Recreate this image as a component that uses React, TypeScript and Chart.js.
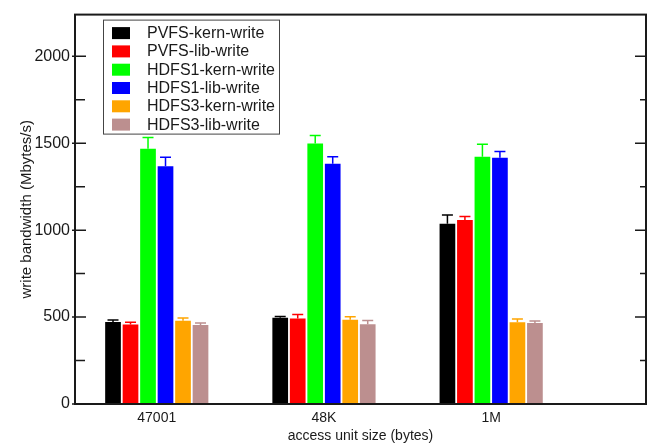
import React, { useEffect, useRef } from 'react';
import { Chart, registerables } from 'chart.js';

Chart.register(...registerables);

// ---- data ----
const categories = ['47001', '48K', '1M'];
const categoryPositions = [1, 2, 3];

const seriesNames = [
  'PVFS-kern-write',
  'PVFS-lib-write',
  'HDFS1-kern-write',
  'HDFS1-lib-write',
  'HDFS3-kern-write',
  'HDFS3-lib-write',
];

const pvfsKernWrite = [472, 496, 1037];
const pvfsLibWrite = [457, 492, 1059];
const hdfs1KernWrite = [1468, 1498, 1422];
const hdfs1LibWrite = [1367, 1382, 1416];
const hdfs3KernWrite = [479, 485, 470];
const hdfs3LibWrite = [455, 459, 466];

const pvfsKernWriteErr = [11, 8, 50];
const pvfsLibWriteErr = [13, 23, 19];
const hdfs1KernWriteErr = [65, 47, 72];
const hdfs1LibWriteErr = [52, 41, 37];
const hdfs3KernWriteErr = [15, 17, 19];
const hdfs3LibWriteErr = [11, 22, 11];

const yTickValues = [0, 500, 1000, 1500, 2000];
const yMinorTickValues = [250, 750, 1250, 1750];

const seriesValues = [pvfsKernWrite, pvfsLibWrite, hdfs1KernWrite, hdfs1LibWrite, hdfs3KernWrite, hdfs3LibWrite];
const seriesErrors = [pvfsKernWriteErr, pvfsLibWriteErr, hdfs1KernWriteErr, hdfs1LibWriteErr, hdfs3KernWriteErr, hdfs3LibWriteErr];

// ---- styles ----
const seriesColors = ['#000000', '#ff0000', '#00ff00', '#0000ff', '#ffa500', '#bc8f8f'];
const FONT = "'Liberation Sans', Arial, Helvetica, sans-serif";
const TEXT = '#1a1a1a';
const LINE = '#1a1a1a';

const decorPlugin = {
  id: 'decor',
  afterDatasetsDraw(chart: any) {
    const ctx = chart.ctx;
    const yScale = chart.scales.y;
    chart.data.datasets.forEach((ds: any, i: number) => {
      const meta = chart.getDatasetMeta(i);
      meta.data.forEach((el: any, j: number) => {
        const v = seriesValues[i][j];
        const e = ds.errors[j];
        const yTop = yScale.getPixelForValue(v + e);
        const yBar = el.y;
        ctx.save();
        ctx.strokeStyle = ds.backgroundColor;
        ctx.lineWidth = 1.5;
        ctx.beginPath();
        ctx.moveTo(el.x, yBar);
        ctx.lineTo(el.x, yTop);
        ctx.moveTo(el.x - 5.5, yTop);
        ctx.lineTo(el.x + 5.5, yTop);
        ctx.stroke();
        ctx.restore();
      });
    });
  },
  afterDraw(chart: any) {
    const ctx = chart.ctx;
    const area = chart.chartArea;
    const yScale = chart.scales.y;
    ctx.save();
    ctx.strokeStyle = LINE;
    ctx.lineWidth = 2;
    ctx.strokeRect(area.left, area.top, area.right - area.left, area.bottom - area.top);
    ctx.lineWidth = 1.5;
    ctx.beginPath();
    yTickValues.forEach((v) => {
      const y = yScale.getPixelForValue(v);
      ctx.moveTo(area.left - 3, y);
      ctx.lineTo(area.left + 11, y);
      ctx.moveTo(area.right - 11, y);
      ctx.lineTo(area.right, y);
    });
    yMinorTickValues.forEach((v) => {
      const y = yScale.getPixelForValue(v);
      ctx.moveTo(area.left, y);
      ctx.lineTo(area.left + 10, y);
      ctx.moveTo(area.right - 6, y);
      ctx.lineTo(area.right, y);
    });
    ctx.stroke();

    const bx = area.left + 28.5;
    const by = area.top + 5.5;
    const bw = 176;
    const bh = 114;
    ctx.fillStyle = '#ffffff';
    ctx.fillRect(bx, by, bw, bh);
    ctx.strokeStyle = '#444444';
    ctx.lineWidth = 1;
    ctx.strokeRect(bx, by, bw, bh);
    ctx.font = `16px ${FONT}`;
    ctx.textBaseline = 'middle';
    ctx.textAlign = 'left';
    seriesNames.forEach((name, i) => {
      const cy = by + 13 + i * 18.3;
      ctx.fillStyle = seriesColors[i];
      ctx.fillRect(bx + 8.5, cy - 6, 18, 12);
      ctx.fillStyle = TEXT;
      ctx.fillText(name, bx + 43.5, cy + 0.5);
    });
    ctx.restore();
  },
};

export default function App() {
  const ref = useRef<HTMLCanvasElement>(null);

  useEffect(() => {
    const canvas = ref.current;
    if (!canvas) return;
    Chart.defaults.font.family = FONT;
    Chart.defaults.color = TEXT;

    const datasets = seriesNames.map((name, i) => ({
      label: name,
      data: categoryPositions.map((x, j) => ({ x, y: seriesValues[i][j] })),
      backgroundColor: seriesColors[i],
      borderWidth: 0,
      categoryPercentage: 0.628,
      barPercentage: 0.897,
      errors: seriesErrors[i],
    }));

    const chart = new Chart(canvas, {
      type: 'bar',
      data: { datasets } as any,
      options: {
        responsive: false,
        animation: false,
        devicePixelRatio: 1,
        layout: { padding: { top: 5, right: 10, left: 0, bottom: 0 } },
        plugins: {
          legend: { display: false },
          tooltip: { enabled: false },
        },
        scales: {
          x: {
            type: 'linear',
            min: 0.511,
            max: 3.926,
            offset: false,
            grid: { display: false, drawTicks: false },
            border: { display: false },
            afterBuildTicks: (s: any) => {
              s.ticks = categoryPositions.map((v) => ({ value: v }));
            },
            afterFit: (s: any) => {
              s.height = 43;
            },
            ticks: {
              callback: (_v: any, idx: number) => categories[idx],
              font: { size: 14 },
              color: TEXT,
              padding: 6,
              autoSkip: false,
              maxRotation: 0,
            },
            title: {
              display: true,
              text: 'access unit size (bytes)',
              font: { size: 14 },
              color: TEXT,
              padding: { top: 0, bottom: 2 },
            },
          },
          y: {
            min: 0,
            max: 2240,
            grid: { display: false, drawTicks: false },
            border: { display: false },
            afterBuildTicks: (s: any) => {
              s.ticks = yTickValues.map((v) => ({ value: v }));
            },
            afterFit: (s: any) => {
              s.width = 75;
            },
            ticks: {
              callback: (v: any) => String(v),
              font: { size: 16 },
              color: TEXT,
              padding: 5,
            },
            title: {
              display: true,
              text: 'write bandwidth (Mbytes/s)',
              font: { size: 15 },
              color: TEXT,
              padding: { top: 18, bottom: 0 },
            },
          },
        },
      } as any,
      plugins: [decorPlugin],
    });

    return () => chart.destroy();
  }, []);

  return (
    <div style={{ position: 'fixed', left: 0, top: 0, width: 656, height: 447, background: '#fff' }}>
      <canvas ref={ref} width={656} height={447} style={{ width: 656, height: 447, display: 'block' }} />
    </div>
  );
}
